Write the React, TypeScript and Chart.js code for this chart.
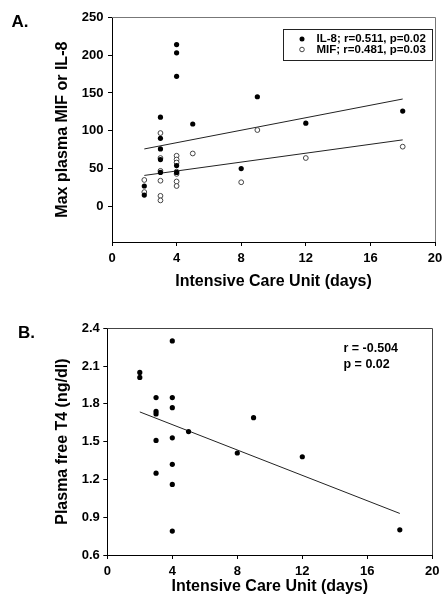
import React, { useEffect, useRef } from "react";
import { Chart, registerables } from "chart.js";

Chart.register(...registerables);

const FONT = "'Liberation Sans', Arial, Helvetica, sans-serif";

// ---------- Panel A data ----------
const il8Days = [2, 2, 3, 3, 3, 3, 3, 4, 4, 4, 4, 4, 5, 8, 9, 12, 18];
const il8Values = [27, 15, 118, 90, 76, 62, 45, 214, 203, 172, 54, 45, 109, 50, 145, 110, 126];
const mifDays = [2, 2, 3, 3, 3, 3, 3, 3, 4, 4, 4, 4, 4, 4, 4, 5, 8, 9, 12, 18];
const mifValues = [35, 19, 97, 64, 47, 34, 14, 8, 67, 62, 58, 46, 43, 33, 27, 70, 32, 101, 64, 79];
const fitDaysA = [2, 18];
const il8Fit = [76, 142];
const mifFit = [41, 88];
const legendLabelsA = ["IL-8; r=0.511, p=0.02", "MIF; r=0.481, p=0.03"];
const yTicksA = [0, 50, 100, 150, 200, 250];
const xTicks = [0, 4, 8, 12, 16, 20];

// ---------- Panel B data ----------
const t4Days = [2, 2, 3, 3, 3, 3, 3, 4, 4, 4, 4, 4, 4, 4, 5, 8, 9, 12, 18];
const t4Values = [2.05, 2.01, 1.85, 1.74, 1.72, 1.51, 1.25, 2.3, 1.85, 1.77, 1.53, 1.32, 1.16, 0.79, 1.58, 1.41, 1.69, 1.38, 0.8];
const fitDaysB = [2, 18];
const t4Fit = [1.736, 0.93];
const yTicksB = [0.6, 0.9, 1.2, 1.5, 1.8, 2.1, 2.4];
const statsB = ["r = -0.504", "p = 0.02"];

const pts = (xs: number[], ys: number[]) => xs.map((x, i) => ({ x, y: ys[i] }));

const tickFont = { family: FONT, size: 13, weight: "bold" as const };
const titleFont = { family: FONT, size: 16, weight: "bold" as const };

function xScale(height: number, titleBottom: number) {
  return {
    type: "linear" as const,
    min: 0,
    max: 20,
    afterBuildTicks(scale: any) {
      scale.ticks = xTicks.map((v) => ({ value: v }));
    },
    ticks: { color: "#000", font: tickFont, padding: 5, maxRotation: 0, autoSkip: false },
    grid: { drawOnChartArea: false, drawTicks: true, tickLength: 4, color: "#000", lineWidth: 1 },
    border: { color: "#000", width: 1 },
    title: {
      display: true,
      text: "Intensive Care Unit (days)",
      color: "#000",
      font: titleFont,
      padding: { top: 0, bottom: titleBottom },
    },
    afterFit(scale: any) {
      scale.height = height;
      scale.paddingLeft = 0;
      scale.paddingRight = 0;
    },
  };
}

function yScale(min: number, max: number, ticks: number[], width: number, pad: number, title: string, fmt: (v: number) => string) {
  return {
    type: "linear" as const,
    min,
    max,
    afterBuildTicks(scale: any) {
      scale.ticks = ticks.map((v) => ({ value: v }));
    },
    ticks: { color: "#000", font: tickFont, padding: pad, autoSkip: false, callback: (v: any) => fmt(Number(v)) },
    grid: { drawOnChartArea: false, drawTicks: true, tickLength: 4, color: "#000", lineWidth: 1 },
    border: { color: "#000", width: 1 },
    title: {
      display: true,
      text: title,
      color: "#000",
      font: titleFont,
      padding: { top: 53.4, bottom: 0 },
    },
    afterFit(scale: any) {
      scale.width = width;
      scale.paddingTop = 0;
      scale.paddingBottom = 0;
    },
  };
}

const decorA = {
  id: "decorA",
  afterDraw(chart: any) {
    const { ctx, chartArea } = chart;
    const { left, top, right, bottom } = chartArea;
    ctx.save();
    ctx.strokeStyle = "#777";
    ctx.lineWidth = 1;
    ctx.beginPath();
    ctx.moveTo(left, Math.round(top) + 0.5);
    ctx.lineTo(Math.round(right) + 0.5, Math.round(top) + 0.5);
    ctx.lineTo(Math.round(right) + 0.5, bottom);
    ctx.stroke();

    ctx.fillStyle = "#000";
    ctx.font = `bold 17px ${FONT}`;
    ctx.textAlign = "left";
    ctx.textBaseline = "middle";
    ctx.fillText("A.", 11.5, 22);

    // legend box
    ctx.strokeStyle = "#222";
    ctx.strokeRect(283.5, 29.5, 149, 31);
    ctx.font = `bold 11.5px ${FONT}`;
    const rows = [39, 49.5];
    // filled marker
    ctx.beginPath();
    ctx.arc(302, rows[0], 2.5, 0, Math.PI * 2);
    ctx.fillStyle = "#000";
    ctx.fill();
    // open marker
    ctx.beginPath();
    ctx.arc(302, rows[1], 2.3, 0, Math.PI * 2);
    ctx.fillStyle = "#fff";
    ctx.fill();
    ctx.strokeStyle = "#444";
    ctx.stroke();
    ctx.fillStyle = "#000";
    ctx.fillText(legendLabelsA[0], 316.5, rows[0]);
    ctx.fillText(legendLabelsA[1], 316.5, rows[1]);
    ctx.restore();
  },
};

const decorB = {
  id: "decorB",
  afterDraw(chart: any) {
    const { ctx, chartArea } = chart;
    const { left, top, right, bottom } = chartArea;
    ctx.save();
    ctx.strokeStyle = "#444";
    ctx.lineWidth = 1;
    ctx.beginPath();
    ctx.moveTo(left, Math.round(top) + 0.5);
    ctx.lineTo(Math.round(right) + 0.5, Math.round(top) + 0.5);
    ctx.lineTo(Math.round(right) + 0.5, bottom);
    ctx.stroke();

    ctx.fillStyle = "#000";
    ctx.font = `bold 17px ${FONT}`;
    ctx.textAlign = "left";
    ctx.textBaseline = "middle";
    ctx.fillText("B.", 18, 33);

    ctx.font = `bold 12.5px ${FONT}`;
    ctx.fillText(statsB[0], 343.5, 49);
    ctx.fillText(statsB[1], 343.5, 65);
    ctx.restore();
  },
};

function ChartA() {
  const ref = useRef<HTMLCanvasElement | null>(null);
  useEffect(() => {
    if (!ref.current) return;
    const chart = new Chart(ref.current, {
      type: "scatter",
      data: {
        datasets: [
          {
            label: legendLabelsA[0],
            data: pts(il8Days, il8Values),
            pointRadius: 2.6,
            pointBackgroundColor: "#000",
            pointBorderColor: "#000",
            pointBorderWidth: 0,
          },
          {
            label: legendLabelsA[1],
            data: pts(mifDays, mifValues),
            pointRadius: 2.4,
            pointBackgroundColor: "#fff",
            pointBorderColor: "#444",
            pointBorderWidth: 1,
          },
          {
            label: "IL-8 fit",
            data: pts(fitDaysA, il8Fit),
            showLine: true,
            pointRadius: 0,
            borderColor: "#222",
            borderWidth: 1,
          },
          {
            label: "MIF fit",
            data: pts(fitDaysA, mifFit),
            showLine: true,
            pointRadius: 0,
            borderColor: "#222",
            borderWidth: 1,
          },
        ],
      },
      options: {
        responsive: false,
        animation: false,
        devicePixelRatio: 1,
        layout: { padding: { top: 17.3, right: 7, bottom: 0, left: 0 } },
        plugins: { legend: { display: false }, tooltip: { enabled: false } },
        scales: {
          x: xScale(58, 8.4),
          y: yScale(-47, 250, yTicksA, 112, 4.5, "Max plasma MIF or IL-8", (v) => String(v)),
        },
      } as any,
      plugins: [decorA],
    });
    return () => chart.destroy();
  }, []);
  return <canvas ref={ref} width={442} height={300} style={{ position: "absolute", left: 0, top: 0, width: 442, height: 300 }} />;
}

function ChartB() {
  const ref = useRef<HTMLCanvasElement | null>(null);
  useEffect(() => {
    if (!ref.current) return;
    const chart = new Chart(ref.current, {
      type: "scatter",
      data: {
        datasets: [
          {
            label: "Plasma free T4",
            data: pts(t4Days, t4Values),
            pointRadius: 2.6,
            pointBackgroundColor: "#000",
            pointBorderColor: "#000",
            pointBorderWidth: 0,
          },
          {
            label: "fit",
            data: pts(fitDaysB, t4Fit),
            showLine: true,
            pointRadius: 0,
            borderColor: "#222",
            borderWidth: 1,
          },
        ],
      },
      options: {
        responsive: false,
        animation: false,
        devicePixelRatio: 1,
        layout: { padding: { top: 28.3, right: 9.7, bottom: 0, left: 0 } },
        plugins: { legend: { display: false }, tooltip: { enabled: false } },
        scales: {
          x: xScale(49, 7.4),
          y: yScale(0.6, 2.4, yTicksB, 107.3, 3.5, "Plasma free T4 (ng/dl)", (v) => v.toFixed(1)),
        },
      } as any,
      plugins: [decorB],
    });
    return () => chart.destroy();
  }, []);
  return <canvas ref={ref} width={442} height={304} style={{ position: "absolute", left: 0, top: 300, width: 442, height: 304 }} />;
}

export default function App() {
  return (
    <div style={{ position: "absolute", left: 0, top: 0, width: 442, height: 604, background: "#fff" }}>
      <ChartA />
      <ChartB />
    </div>
  );
}
